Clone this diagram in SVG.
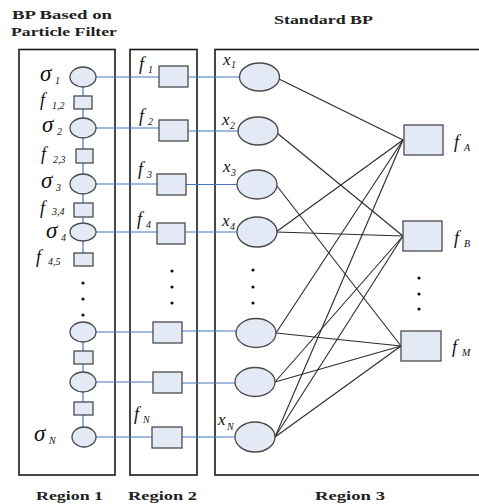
<svg xmlns="http://www.w3.org/2000/svg" width="479" height="504" viewBox="0 0 479 504">
<style>
.box{fill:none;stroke:#1a1a1a;stroke-width:1.6}
.nd{fill:#e3eaf6;stroke:#4a4a4a;stroke-width:1.3}
.bl{fill:none;stroke:#4a74c0;stroke-width:1.2}
.bk{fill:none;stroke:#2a2a2a;stroke-width:1.1}
.dot{fill:#111}
</style>
<rect width="479" height="504" fill="#fff"/>
<g id="titles" font-family="Liberation Serif, serif" font-weight="bold" font-size="13" fill="#222">
<text x="12" y="19" textLength="100" lengthAdjust="spacingAndGlyphs">BP Based on</text>
<text x="11" y="36" textLength="106" lengthAdjust="spacingAndGlyphs">Particle Filter</text>
<text x="274" y="24" textLength="99" lengthAdjust="spacingAndGlyphs">Standard BP</text>
<text x="36" y="500" textLength="67" lengthAdjust="spacingAndGlyphs">Region 1</text>
<text x="128" y="500" textLength="69" lengthAdjust="spacingAndGlyphs">Region 2</text>
<text x="315" y="500" textLength="70" lengthAdjust="spacingAndGlyphs">Region 3</text>
</g>
<g id="regions">
<rect class="box" x="19" y="49.5" width="96" height="425.5"/>
<rect class="box" x="130" y="49.5" width="67" height="425.5"/>
<rect class="box" x="215" y="49.5" width="290" height="425.5"/>
</g>
<g id="connectors">
<path class="bl" d="M83 87V253M83 322V427"/>
<path class="bl" d="M96 77H159M188 77H240"/>
<path class="bl" d="M96 128H159M188 131H239"/>
<path class="bl" d="M96 184H157M186 184.5H237"/>
<path class="bl" d="M96 232H157M185 232H237"/>
<path class="bl" d="M96 332H153M182 331H236"/>
<path class="bl" d="M96 382H153M182 383H235"/>
<path class="bl" d="M96 437H152M182 437H235"/>
<path class="bk" d="M279 79L403 140"/>
<path class="bk" d="M277 133L403 236"/>
<path class="bk" d="M277 186L401 346"/>
<path class="bk" d="M276 232L403 140"/>
<path class="bk" d="M276 232L403 236"/>
<path class="bk" d="M276 333L403 140"/>
<path class="bk" d="M276 333L401 346"/>
<path class="bk" d="M275 382L403 236"/>
<path class="bk" d="M275 382L401 346"/>
<path class="bk" d="M275 437L403 140"/>
<path class="bk" d="M275 437L403 236"/>
<path class="bk" d="M275 437L401 346"/>
</g>
<g font-family="Liberation Serif, serif" font-style="italic" fill="#111">
<g id="sigma1"><ellipse class="nd" cx="83" cy="77" rx="13" ry="10"/><text font-size="23" x="40" y="81">σ</text><text font-size="10" x="55" y="84">1</text></g>
<g id="f12"><rect class="nd" x="74" y="96" width="18" height="13"/><text font-size="18" x="40" y="106">f</text><text font-size="10" x="52" y="109">1,2</text></g>
<g id="sigma2"><ellipse class="nd" cx="83" cy="128" rx="13" ry="10"/><text font-size="23" x="42" y="132">σ</text><text font-size="10" x="57" y="135">2</text></g>
<g id="f23"><rect class="nd" x="76" y="149" width="17" height="14"/><text font-size="18" x="41" y="160">f</text><text font-size="10" x="53" y="163">2,3</text></g>
<g id="sigma3"><ellipse class="nd" cx="83" cy="184" rx="13" ry="10"/><text font-size="23" x="41" y="188">σ</text><text font-size="10" x="56" y="191">3</text></g>
<g id="f34"><rect class="nd" x="74" y="203" width="19" height="14"/><text font-size="18" x="40" y="214">f</text><text font-size="10" x="52" y="215">3,4</text></g>
<g id="sigma4"><ellipse class="nd" cx="83" cy="232" rx="13" ry="9"/><text font-size="23" x="46" y="238">σ</text><text font-size="10" x="61" y="241">4</text></g>
<g id="f45"><rect class="nd" x="74" y="253" width="19" height="13"/><text font-size="18" x="36" y="263">f</text><text font-size="10" x="48" y="265">4,5</text></g>
<g id="dots1"><circle class="dot" cx="83" cy="283" r="1.6"/><circle class="dot" cx="83" cy="299" r="1.6"/><circle class="dot" cx="83" cy="315" r="1.6"/></g>
<g id="sigma5"><ellipse class="nd" cx="83" cy="332" rx="13" ry="10"/></g>
<g id="f56"><rect class="nd" x="74" y="351" width="19" height="13"/></g>
<g id="sigma6"><ellipse class="nd" cx="83" cy="382" rx="13" ry="10"/></g>
<g id="f6N"><rect class="nd" x="74" y="402" width="19" height="13"/></g>
<g id="sigmaN"><ellipse class="nd" cx="84" cy="437" rx="12" ry="10"/><text font-size="23" x="34" y="441">σ</text><text font-size="10" x="49" y="444">N</text></g>
<g id="f1"><rect class="nd" x="159" y="66" width="29" height="21"/><text font-size="18" x="139" y="70">f</text><text font-size="10" x="148" y="73">1</text></g>
<g id="f2"><rect class="nd" x="159" y="120" width="29" height="21"/><text font-size="18" x="139" y="122">f</text><text font-size="10" x="148" y="125">2</text></g>
<g id="f3"><rect class="nd" x="157" y="174" width="29" height="21"/><text font-size="18" x="138" y="175">f</text><text font-size="10" x="147" y="178">3</text></g>
<g id="f4"><rect class="nd" x="157" y="223" width="28" height="21"/><text font-size="18" x="137" y="225">f</text><text font-size="10" x="146" y="228">4</text></g>
<g id="dots2"><circle class="dot" cx="172" cy="271" r="1.6"/><circle class="dot" cx="172" cy="287" r="1.6"/><circle class="dot" cx="172" cy="303" r="1.6"/></g>
<g id="f5"><rect class="nd" x="153" y="322" width="29" height="21"/></g>
<g id="f6"><rect class="nd" x="153" y="372" width="29" height="21"/></g>
<g id="fN"><rect class="nd" x="152" y="427" width="30" height="21"/><text font-size="18" x="134" y="420">f</text><text font-size="10" x="143" y="423">N</text></g>
<g id="x1"><ellipse class="nd" cx="259.5" cy="77" rx="20" ry="14"/><text font-size="17" x="223" y="65">x</text><text font-size="10" x="231" y="68">1</text></g>
<g id="x2"><ellipse class="nd" cx="258" cy="131" rx="20" ry="14"/><text font-size="17" x="222" y="125">x</text><text font-size="10" x="230" y="129">2</text></g>
<g id="x3"><ellipse class="nd" cx="257" cy="184.5" rx="20" ry="14.5"/><text font-size="17" x="223" y="172">x</text><text font-size="10" x="231" y="176">3</text></g>
<g id="x4"><ellipse class="nd" cx="257" cy="232" rx="20" ry="15"/><text font-size="17" x="222" y="226">x</text><text font-size="10" x="230" y="230">4</text></g>
<g id="dots3"><circle class="dot" cx="253" cy="270" r="1.6"/><circle class="dot" cx="253" cy="287" r="1.6"/><circle class="dot" cx="253" cy="303" r="1.6"/></g>
<g id="x5"><ellipse class="nd" cx="256" cy="333" rx="20" ry="14.5"/></g>
<g id="x6"><ellipse class="nd" cx="255" cy="382" rx="20" ry="14.5"/></g>
<g id="xN"><ellipse class="nd" cx="255" cy="437" rx="20" ry="15"/><text font-size="17" x="218" y="425">x</text><text font-size="10" x="227" y="430">N</text></g>
<g id="fA"><rect class="nd" x="404" y="125" width="39" height="30"/><text font-size="18" x="454" y="148">f</text><text font-size="10" x="464" y="151">A</text></g>
<g id="fB"><rect class="nd" x="403" y="221" width="39" height="30"/><text font-size="18" x="454" y="244">f</text><text font-size="10" x="464" y="247">B</text></g>
<g id="dots4"><circle class="dot" cx="419" cy="278" r="1.6"/><circle class="dot" cx="419" cy="294" r="1.6"/><circle class="dot" cx="419" cy="309" r="1.6"/></g>
<g id="fM"><rect class="nd" x="401" y="331" width="40" height="30"/><text font-size="18" x="452" y="353">f</text><text font-size="10" x="462" y="356">M</text></g>
</g>
</svg>
